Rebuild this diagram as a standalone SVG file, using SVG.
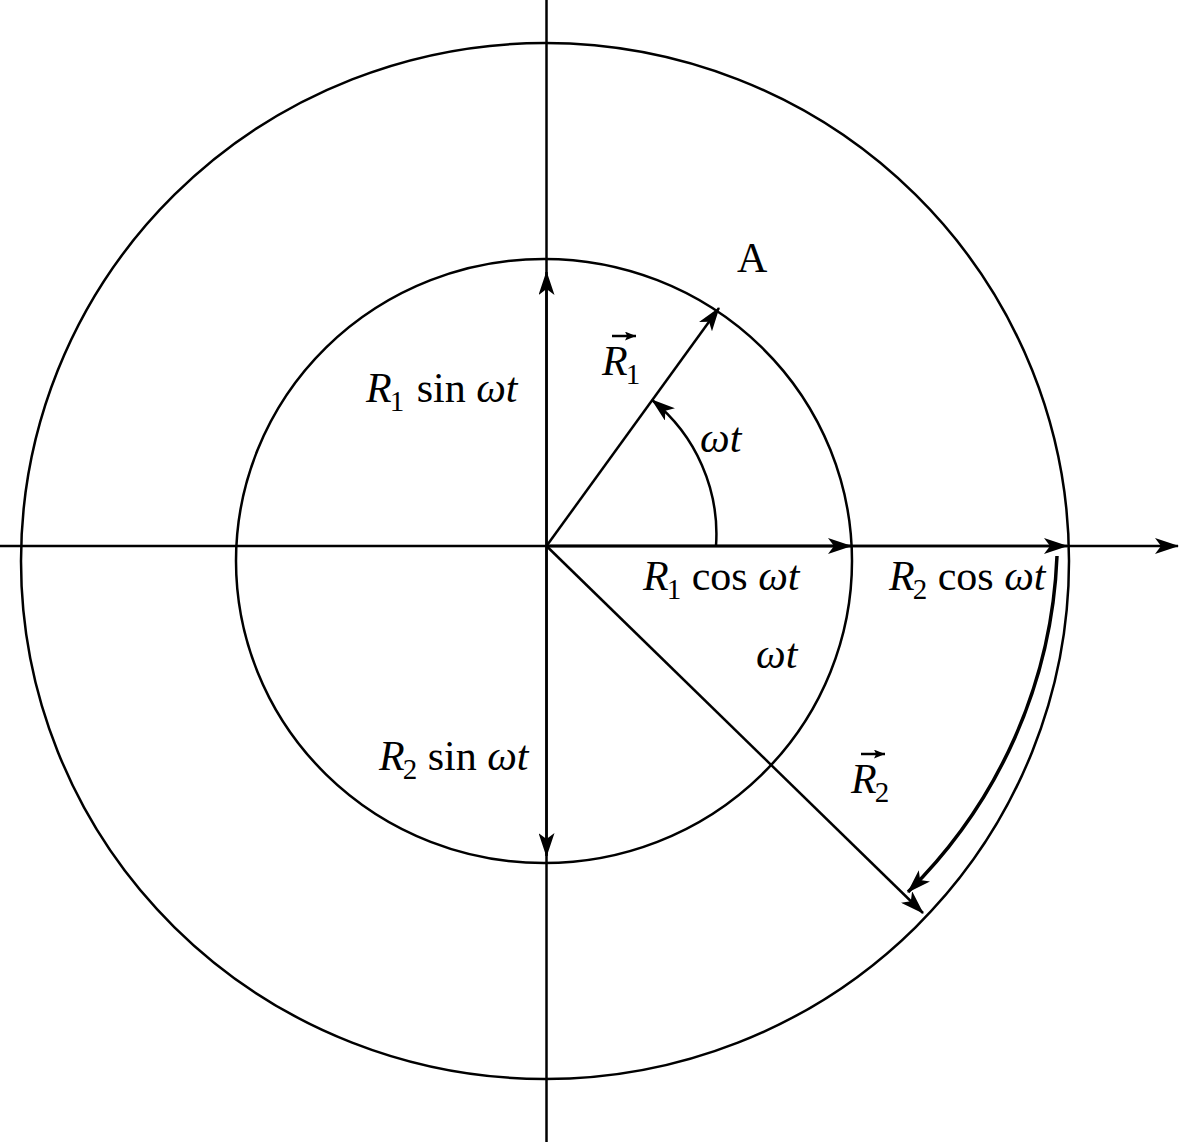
<svg xmlns="http://www.w3.org/2000/svg" width="1200" height="1142" viewBox="0 0 1200 1142">
<style>
.ln{stroke:#000;stroke-width:2.5;fill:none}
.ar{stroke:#000;stroke-width:2.5;fill:none;marker-end:url(#ah)}
.t{font-family:"Liberation Serif","Times New Roman",serif;font-size:42px;fill:#000}
.i{font-style:italic}
.s{font-size:29px;font-style:normal}
</style>
<defs>
<marker id="ah" viewBox="0 0 24 16" refX="23" refY="8" markerWidth="24" markerHeight="16" markerUnits="userSpaceOnUse" orient="auto">
<path d="M0,0 L24,8 L0,16 L6,8 z" fill="#000"/>
</marker>
<marker id="va" viewBox="0 0 10 8" refX="10" refY="4" markerWidth="11" markerHeight="9" markerUnits="userSpaceOnUse" orient="auto">
<path d="M0,0 L10,4 L0,8 L2,4 z" fill="#000"/>
</marker>
</defs>
<rect width="1200" height="1142" fill="#fff"/>
<g id="circles">
<ellipse id="inner" cx="544" cy="561" rx="308" ry="302" class="ln"/>
<ellipse id="outer" cx="545" cy="561" rx="524" ry="518" class="ln"/>
</g>
<g id="connectors">
<line x1="546.5" y1="0" x2="546.5" y2="1142" class="ln"/>
<line x1="0" y1="546" x2="1178" y2="546" class="ar"/>
<line x1="546.5" y1="546" x2="546.5" y2="272" class="ar"/>
<line x1="546.5" y1="546" x2="546.5" y2="856" class="ar"/>
<line x1="546.5" y1="546" x2="851" y2="546" class="ar"/>
<line x1="546.5" y1="546" x2="1067" y2="546" class="ar"/>
<line x1="546.5" y1="546" x2="719" y2="308" class="ar"/>
<line x1="546.5" y1="546" x2="923" y2="913" class="ar"/>
<path d="M716,546 A172,172 0 0 0 652,400" class="ar"/>
<path d="M1057,556 A508,502 0 0 1 908,892" class="ar" style="stroke-width:3.5"/>
</g>
<g id="labels">
<text class="t" x="737" y="272" font-size="45">A</text>
<g id="R1vec">
<text class="t i" x="602" y="375">R<tspan class="s" dx="-2" dy="9">1</tspan></text>
<line x1="612" y1="336" x2="636" y2="336" stroke="#000" stroke-width="2.5" marker-end="url(#va)"/>
</g>
<text class="t i" x="700" y="452">ωt</text>
<text class="t" x="366" y="402"><tspan class="i">R</tspan><tspan class="s" dx="-2" dy="9">1</tspan><tspan dy="-9" dx="2"> sin</tspan><tspan class="i"> ωt</tspan></text>
<text class="t" x="643" y="590"><tspan class="i">R</tspan><tspan class="s" dx="-2" dy="9">1</tspan><tspan dy="-9"> cos</tspan><tspan class="i"> ωt</tspan></text>
<text class="t" x="889" y="590" font-size="38"><tspan class="i">R</tspan><tspan class="s" font-size="27" dx="-2" dy="9">2</tspan><tspan dy="-9"> cos</tspan><tspan class="i"> ωt</tspan></text>
<text class="t i" x="756" y="668">ωt</text>
<text class="t" x="379" y="770"><tspan class="i">R</tspan><tspan class="s" dx="-2" dy="9">2</tspan><tspan dy="-9"> sin</tspan><tspan class="i"> ωt</tspan></text>
<g id="R2vec">
<text class="t i" x="851" y="793">R<tspan class="s" dx="-2" dy="9">2</tspan></text>
<line x1="861" y1="754" x2="885" y2="754" stroke="#000" stroke-width="2.5" marker-end="url(#va)"/>
</g>
</g>
</svg>
